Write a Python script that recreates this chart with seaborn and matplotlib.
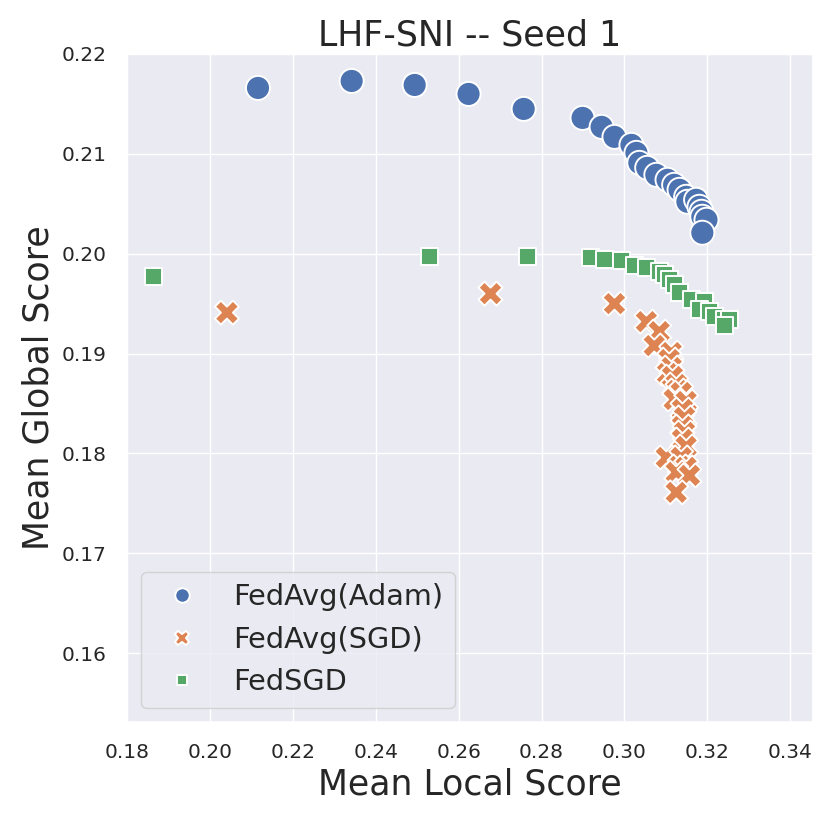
import numpy as np
import pandas as pd
import matplotlib
matplotlib.use("Agg")
import matplotlib.pyplot as plt
import seaborn as sns

adam_local = [0.2116, 0.2342, 0.2494, 0.2624, 0.2757, 0.2899, 0.2945, 0.2976, 0.3017,
              0.3029, 0.3036, 0.3055, 0.3077, 0.3104, 0.3120, 0.3133, 0.3149, 0.3152,
              0.3173, 0.3181, 0.3186, 0.3188, 0.3198, 0.3188]
adam_global = [0.2166, 0.2173, 0.2169, 0.2160, 0.2145, 0.2136, 0.2127, 0.2117, 0.2109,
               0.2101, 0.2091, 0.2086, 0.2079, 0.2074, 0.2069, 0.2064, 0.2057, 0.2052,
               0.2054, 0.2047, 0.2042, 0.2037, 0.2034, 0.2021]

sgd_local = [0.2041, 0.2677, 0.2976, 0.3053, 0.3084, 0.3072, 0.3113, 0.3108, 0.3113,
             0.3104, 0.3116, 0.3125, 0.3128, 0.3137, 0.3120, 0.3149, 0.3140, 0.3145,
             0.3140, 0.3145, 0.3140, 0.3149, 0.3101, 0.3137, 0.3133, 0.3149, 0.3125,
             0.3157, 0.3125]
sgd_global = [0.1941, 0.1960, 0.1950, 0.1932, 0.1922, 0.1908, 0.1901, 0.1894, 0.1886,
              0.1880, 0.1877, 0.1869, 0.1863, 0.1861, 0.1854, 0.1852, 0.1844, 0.1836,
              0.1827, 0.1821, 0.1814, 0.1807, 0.1796, 0.1796, 0.1787, 0.1786, 0.1781,
              0.1778, 0.1761]

fedsgd_local = [0.1865, 0.2530, 0.2766, 0.2918, 0.2952, 0.2993, 0.3024, 0.3053, 0.3084,
                0.3096, 0.3108, 0.3120, 0.3133, 0.3161, 0.3193, 0.3181, 0.3205, 0.3217,
                0.3241, 0.3253, 0.3241]
fedsgd_global = [0.1977, 0.1997, 0.1997, 0.1996, 0.1994, 0.1993, 0.1988, 0.1986, 0.1982,
                 0.1979, 0.1974, 0.1969, 0.1961, 0.1954, 0.1952, 0.1944, 0.1942, 0.1937,
                 0.1934, 0.1934, 0.1928]

methods = ["FedAvg(Adam)", "FedAvg(SGD)", "FedSGD"]

df = pd.DataFrame({
    "local": adam_local + sgd_local + fedsgd_local,
    "global": adam_global + sgd_global + fedsgd_global,
    "method": [methods[0]] * len(adam_local) + [methods[1]] * len(sgd_local)
              + [methods[2]] * len(fedsgd_local),
})

sns.set_theme(style="darkgrid")
plt.rcParams['font.family'] = ['DejaVu Sans']

fig = plt.figure(figsize=(8.3, 8.22), dpi=100)
ax = fig.add_axes([127 / 830, 100 / 822, (813 - 127) / 830, (722 - 54) / 822])

sns.scatterplot(data=df, x="local", y="global", hue="method", style="method",
                hue_order=methods, style_order=methods, s=300, ax=ax)

ax.set_xlim(0.18, 0.3455)
ax.set_ylim(0.1531, 0.2199)
ax.set_xticks(np.arange(0.18, 0.341, 0.02))
ax.set_yticks(np.arange(0.16, 0.221, 0.01))
ax.tick_params(labelsize=14.5, pad=9)
ax.set_xlabel("Mean Local Score", fontsize=25)
ax.set_ylabel("Mean Global Score", fontsize=25)
ax.set_title("LHF-SNI -- Seed 1", fontsize=25)
leg = ax.legend(loc="lower left", fontsize=20.7, markerscale=0.6)

fig.savefig("out.png", dpi=100)
